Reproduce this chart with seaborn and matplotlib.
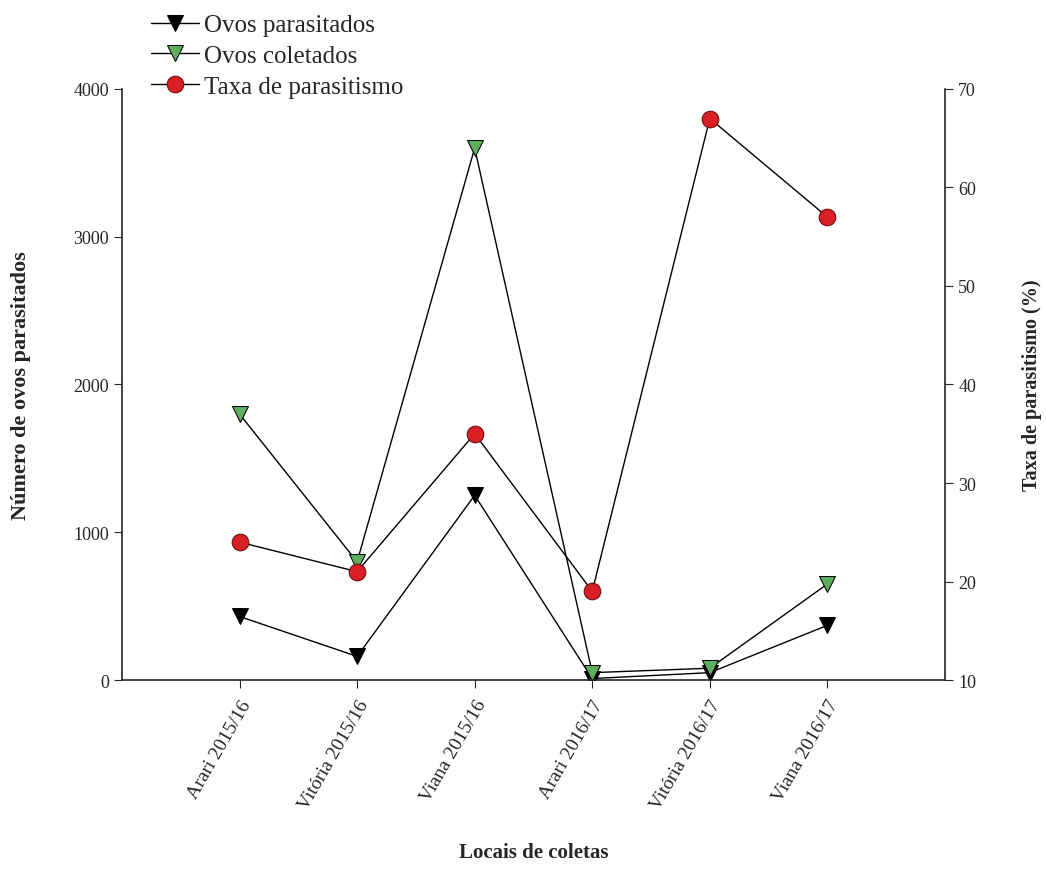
import numpy as np
import pandas as pd
import matplotlib
matplotlib.use("Agg")
import matplotlib.pyplot as plt
import seaborn as sns

# values
locais = ["Arari 2015/16", "Vitória 2015/16", "Viana 2015/16",
          "Arari 2016/17", "Vitória 2016/17", "Viana 2016/17"]
ovos_parasitados = [430, 160, 1250, 10, 50, 370]
ovos_coletados = [1800, 800, 3600, 50, 80, 650]
taxa_parasitismo = [24, 21, 35, 19, 67, 57]

sns.set_style("ticks")
plt.rcParams["font.family"] = ["Liberation Serif", "DejaVu Serif"]

df = pd.DataFrame({"local": locais, "parasitados": ovos_parasitados,
                   "coletados": ovos_coletados, "taxa": taxa_parasitismo})
df["pos"] = np.arange(1, len(locais) + 1)

fig = plt.figure(figsize=(10.46, 8.70), dpi=100)
ax = fig.add_axes([0.1166, 0.2172, 0.7868, 0.6794])
ax2 = ax.twinx()

lw = 1.0
sns.lineplot(data=df, x="pos", y="parasitados", ax=ax, color="black", lw=lw,
             marker="v", markersize=12, markerfacecolor="black",
             markeredgecolor="black", label="Ovos parasitados", legend=False)
sns.lineplot(data=df, x="pos", y="coletados", ax=ax, color="black", lw=lw,
             marker="v", markersize=12, markerfacecolor="#5fae5f",
             markeredgecolor="black", label="Ovos coletados", legend=False)
sns.lineplot(data=df, x="pos", y="taxa", ax=ax2, color="black", lw=lw,
             marker="o", markersize=12, markerfacecolor="#d71f25",
             markeredgecolor="#6b0a0a", label="Taxa de parasitismo", legend=False)

ax.set_xlim(0, 7)
ax.set_ylim(0, 4000)
ax.set_yticks([0, 1000, 2000, 3000, 4000])
ax2.set_ylim(10, 70)
ax2.set_yticks(range(10, 71, 10))

ax.set_xticks(df["pos"])
ax.set_xticklabels(locais, rotation=60, ha="right", rotation_mode="anchor",
                   fontsize=14)
ax.tick_params(axis="y", labelsize=13, direction="out", length=6)
ax.tick_params(axis="x", direction="out", length=6, pad=6)
ax2.tick_params(axis="y", labelsize=13, direction="out", length=6)

ax.set_xlabel("Locais de coletas", fontsize=15, fontweight="bold", labelpad=22)
ax.set_ylabel("Número de ovos parasitados", fontsize=16, fontweight="bold",
              labelpad=30)
ax2.set_ylabel("Taxa de parasitismo (%)", fontsize=14.5, fontweight="bold",
               labelpad=33)

for a in (ax, ax2):
    a.spines["top"].set_visible(False)
    for s in ("left", "right", "bottom"):
        a.spines[s].set_linewidth(1.2)
ax.spines["right"].set_visible(False)
ax2.spines["left"].set_visible(False)
ax2.spines["bottom"].set_visible(False)

h1, l1 = ax.get_legend_handles_labels()
h2, l2 = ax2.get_legend_handles_labels()
fig.legend(h1 + h2, l1 + l2, loc="upper left", bbox_to_anchor=(0.128, 1.003),
           frameon=False, fontsize=18, handlelength=1.9, handletextpad=0.2,
           labelspacing=0.33, borderaxespad=0.3)

fig.savefig("out.png", dpi=100)
